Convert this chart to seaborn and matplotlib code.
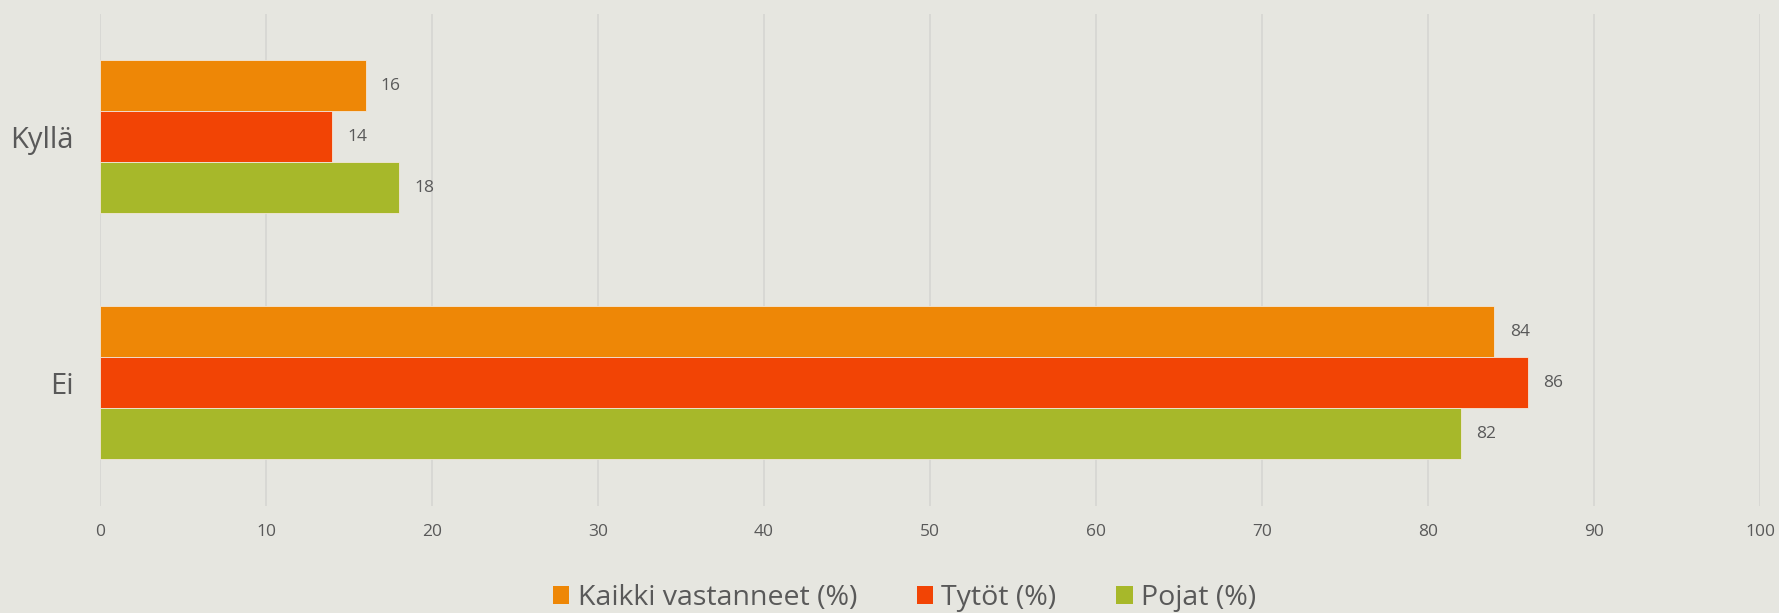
import matplotlib
matplotlib.use("Agg")
import matplotlib.pyplot as plt
import seaborn as sns
import pandas as pd
from matplotlib.patches import Patch

categories = ["Kyllä", "Ei"]
series_names = ["Kaikki vastanneet (%)", "Tytöt (%)", "Pojat (%)"]
kaikki = [16, 84]
tytot = [14, 86]
pojat = [18, 82]
x_ticks = [0, 10, 20, 30, 40, 50, 60, 70, 80, 90, 100]

colors = ["#EE8706", "#F24405", "#A7B82A"]
bg = "#E6E6E0"
txt = "#595959"

rows = []
for name, vals in zip(series_names, [kaikki, tytot, pojat]):
    for c, v in zip(categories, vals):
        rows.append({"cat": c, "series": name, "value": v})
df = pd.DataFrame(rows)

sns.set_theme(style="white")
plt.rcParams["font.family"] = ["Open Sans", "DejaVu Sans"]

fig = plt.figure(figsize=(17.79, 6.13), dpi=100, facecolor=bg)
ax = fig.add_axes([100/1779, 1-506/613, (1760-100)/1779, (506-13.5)/613])
ax.set_facecolor(bg)

sns.barplot(data=df, y="cat", x="value", hue="series", order=categories,
            hue_order=series_names, palette=colors, orient="h", width=0.622,
            gap=0, ax=ax, legend=False, edgecolor="#F2E6D8", linewidth=0.6,
            saturation=1)

for cont in ax.containers:
    ax.bar_label(cont, fmt="%d", padding=11, fontsize=12.5, color=txt)

ax.set_xlim(0, 100)
ax.set_ylim(1.5, -0.5)
ax.set_xticks(x_ticks)
ax.set_xticklabels([str(t) for t in x_ticks], fontsize=12.5, color=txt)
ax.tick_params(axis="x", length=0, pad=13)
ax.tick_params(axis="y", length=0, pad=19, labelsize=21, labelcolor=txt)
ax.set_xlabel("")
ax.set_ylabel("")
ax.grid(axis="x", color="#D6D6D2", linewidth=1.2)
ax.set_axisbelow(True)
for s in ax.spines.values():
    s.set_visible(False)

handles = [Patch(facecolor=c, edgecolor="none") for c in colors]
fig.legend(handles, series_names, loc="center", bbox_to_anchor=(904.5/1779, 1-598/613),
           ncol=3, frameon=False, fontsize=20.5, labelcolor=txt, handlelength=0.58,
           handleheight=0.58, handletextpad=0.29, columnspacing=2.1,
           borderpad=0, borderaxespad=0)

fig.savefig("out.png", dpi=100, facecolor=bg)
